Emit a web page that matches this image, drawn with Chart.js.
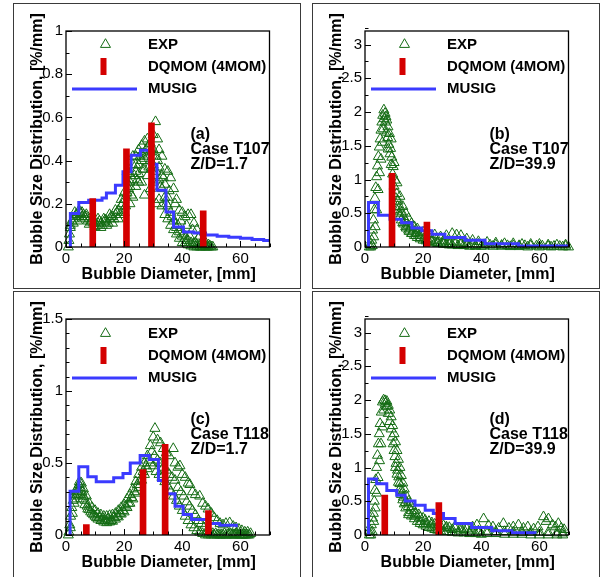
<!DOCTYPE html>
<html><head><meta charset="utf-8">
<script src="https://cdn.jsdelivr.net/npm/chart.js"></script>
<style>
html,body{margin:0;padding:0;background:#fff;width:615px;height:577px;overflow:hidden}
.frame{position:absolute;border:1px solid #3a3a3a;box-sizing:border-box;width:288px}
.frame canvas{position:absolute;left:0;top:0}
</style></head><body>
<div class="frame" style="left:13px;top:3px;height:286px"><canvas id="cA" width="286" height="284"></canvas></div>
<div class="frame" style="left:312px;top:3px;height:286px"><canvas id="cB" width="286" height="284"></canvas></div>
<div class="frame" style="left:13px;top:291px;height:292px"><canvas id="cC" width="286" height="284"></canvas></div>
<div class="frame" style="left:312px;top:291px;height:292px"><canvas id="cD" width="286" height="284"></canvas></div>
<script>
// ---------- tick labels ----------
const xTicks = [0, 20, 40, 60];
const yTicksA = [0, 0.2, 0.4, 0.6, 0.8, 1];
const yTicksB = [0, 0.5, 1, 1.5, 2, 2.5, 3];
const yTicksC = [0, 0.5, 1, 1.5];
const yTicksD = [0, 0.5, 1, 1.5, 2, 2.5, 3];

// ---------- text ----------
const xTitle = 'Bubble Diameter, [mm]';
const yTitle = 'Bubble Size Distribution, [%/mm]';
const seriesNames = ['EXP', 'DQMOM (4MOM)', 'MUSIG'];
const notesA = ['(a)', 'Case T107', 'Z/D=1.7'];
const notesB = ['(b)', 'Case T107', 'Z/D=39.9'];
const notesC = ['(c)', 'Case T118', 'Z/D=1.7'];
const notesD = ['(d)', 'Case T118', 'Z/D=39.9'];

// ---------- panel (a) ----------
const expAx = [0.8,1.0,1.2,1.5,2,3,4,5,6,7,8,9,10,11,12,13,14,15,16,17,18,19,20,21,22,23,24,25,26,27,28,29,30,31,32,33,34,35,36,37,38,39,40,41,42,43,44,45,46,47,48,49,50,
  1.5,3,4.5,5.5,7,9,11,13,15,17,19,20,21,22,23,24,25,26,27,28,29,30,30.8,31.5,32,33,34,35,36,37,38,39,40,41,42,43,44,45,46,47,48,49,50.5,
  2.5,4,6,8,10,12,14,16,18,20,22,23,24,25,26,27,28,29,30,31,32,33,34,35,36,37,38,39,40,41,42,43,44,45,46,47,48,
  2.5,3.5,4.5,5.5,6.5,7.5,8.5,9.5,10.5,11.5,12.5,13.5,14.5,15.5,16.5,17.5,18.5,19.5,20.5,21.5,22.5,23.5,24.5,25.5,26.5,27.5,28.5,29.5,30.5,31.5,32.5,33.5,34.5,35.5,36.5,37.5,38.5,39.5,40.5,41.5,42.5,43.5,44.5,45.5,46.5,47.5,48.5,49.5,
  21,22,23,24,25,26,27,28,29,30,31,32,33,34,35];
const expAy = [0,0.03,0.06,0.09,0.12,0.14,0.15,0.155,0.15,0.14,0.13,0.12,0.115,0.11,0.11,0.115,0.12,0.13,0.14,0.15,0.17,0.19,0.22,0.25,0.28,0.31,0.35,0.38,0.40,0.41,0.42,0.40,0.38,0.35,0.31,0.27,0.23,0.19,0.16,0.12,0.09,0.07,0.05,0.04,0.03,0.02,0.015,0.01,0.01,0.005,0.005,0,0,
  0.1,0.16,0.17,0.16,0.15,0.13,0.13,0.13,0.15,0.17,0.22,0.25,0.3,0.34,0.38,0.42,0.45,0.47,0.49,0.5,0.48,0.52,0.58,0.5,0.45,0.42,0.36,0.35,0.32,0.27,0.22,0.17,0.16,0.14,0.15,0.15,0.11,0.08,0.05,0.03,0.02,0.01,0,
  0.11,0.12,0.13,0.105,0.095,0.09,0.1,0.11,0.13,0.16,0.2,0.23,0.28,0.3,0.3,0.24,0.33,0.27,0.3,0.2,0.22,0.19,0.15,0.13,0.1,0.08,0.06,0.04,0.02,0.02,0.01,0.005,0,0,0,0,0,
  0.13,0.15,0.14,0.14,0.14,0.12,0.115,0.11,0.1,0.12,0.1,0.125,0.11,0.14,0.13,0.16,0.15,0.2,0.19,0.27,0.24,0.33,0.31,0.42,0.36,0.45,0.37,0.44,0.33,0.4,0.28,0.32,0.2,0.26,0.14,0.2,0.1,0.12,0.06,0.1,0.05,0.08,0.02,0.04,0,0.01,0,0.005,
  0.35,0.3,0.42,0.38,0.34,0.43,0.36,0.46,0.44,0.45,0.42,0.37,0.33,0.29,0.23];
const dqAx = [9.2, 20.8, 29.4, 47.2];
const dqAy = [0.224, 0.455, 0.575, 0.168];
const muAx = [1.2,1.5,4.4,7.8,12.4,13.9,17,19.6,22.4,25.6,28.7,31.3,34.4,37,40.4,44,48,52,56,60,64,68,70];
const muAy = [0,0.155,0.206,0.216,0.227,0.25,0.286,0.348,0.425,0.448,0.383,0.263,0.162,0.093,0.07,0.065,0.055,0.05,0.045,0.04,0.035,0.03,0.028];

// ---------- panel (b) ----------
const expBx = [1.5,2.0,2.3,2.6,2.9,3.2,3.4,3.7,4.0,4.3,4.6,4.9,5.2,5.5,5.8,6.1,6.5,6.9,7.2,7.5,7.9,8.4,8.8,9.2,9.7,10.3,10.9,11.4,12.0,12.6,13.2,14.0,14.9,15.7,16.6,17.7,18.9,20.5,22.4,24.5,27,29,31,33,35,37,39,41,43,45,47,49,51,53,55,57,59,61,63,65,67,69,
  2.0,2.5,3.0,3.5,4.0,4.5,5.0,5.5,6.0,6.3,6.6,7.0,7.4,7.8,8.2,8.6,9.0,9.5,10.0,10.6,11.2,11.8,12.5,13.3,14.2,15.2,16.2,17.5,19,21,23,25,27,29,31,33,35,38,41,44,47,50,53,56,60,64,68,70,
  8.0,9.0,10.0,11.0,12,13,14,15,16,17,18,20,22,24,26,28,30,31.5,33,35,37,39,42,45,48,51,54,57,60,63,66,69,
  11,12,13,14,15,16,17,18,19,20,21,22,23,24,25,26,27,28,29,30,32,34,36,38,40];
const expBy = [0,0.05,0.1,0.25,0.4,0.55,0.72,0.88,1.04,1.2,1.34,1.48,1.6,1.73,1.85,1.95,2.03,1.98,1.93,1.88,1.78,1.68,1.46,1.33,1.19,0.99,0.79,0.68,0.59,0.52,0.45,0.38,0.32,0.28,0.25,0.21,0.17,0.14,0.12,0.1,0.09,0.08,0.07,0.06,0.05,0.045,0.04,0.035,0.03,0.03,0.025,0.02,0.02,0.02,0.02,0.015,0.015,0.015,0.01,0.01,0.01,0.01,
  0,0.02,0.15,0.3,0.55,0.85,1.1,1.3,1.55,1.75,1.9,1.85,1.7,1.62,1.52,1.38,1.22,1.08,0.9,0.72,0.6,0.5,0.4,0.34,0.28,0.23,0.2,0.17,0.14,0.11,0.09,0.07,0.06,0.05,0.04,0.035,0.03,0.02,0.015,0.01,0.01,0.005,0.005,0,0,0,0,0,
  1.45,1.6,1.25,0.95,0.75,0.6,0.5,0.42,0.35,0.3,0.27,0.22,0.2,0.18,0.15,0.17,0.2,0.18,0.17,0.12,0.1,0.08,0.07,0.06,0.05,0.05,0.04,0.04,0.04,0.03,0.03,0.03,
  0.55,0.45,0.36,0.3,0.25,0.2,0.17,0.14,0.12,0.1,0.09,0.08,0.07,0.06,0.05,0.05,0.04,0.04,0.03,0.03,0.02,0.02,0.01,0.01,0.01];
const dqBx = [9.3, 21.3];
const dqBy = [1.09, 0.37];
const muBx = [1.1,1.2,4.6,8.6,12.6,16.1,19.5,23,27.5,34.4,41.3,52.8,70];
const muBy = [0,0.66,0.47,0.41,0.36,0.28,0.24,0.19,0.14,0.10,0.05,0.015,0.01];

// ---------- panel (c) ----------
const expCx = [0.8,1.0,1.3,1.6,2.0,2.5,3.0,3.5,4.0,4.5,5.0,5.5,6.0,6.6,7.3,8.0,9.0,10.0,11.0,12.0,13.0,14,15,16,17,18,19,20,21,22,23,24,25,26,27,28,29,30,31,32,33,34,35,36,37,38,39,40,41,42,43,44,45,46,47,48,49,50,51,52,53,54,55,56,57,58,59,60,61,62,63,
  1.5,2.2,3.0,3.8,4.6,5.3,6.0,7.0,8.0,9.0,10,11,12,13,14,15,16,17,18,19,20,21,22,23,24,25,26,27,28,29,30,30.6,31.5,32.5,33.5,34.5,35.5,36.9,37.5,38.5,39.2,40,41,42,42.6,43.5,44.5,46,47,48,48.9,50,51,52,53,54,55,56.3,57.5,58.5,59.5,60.5,61.5,62.5,63.5,
  2.8,3.3,4.2,5.0,5.8,6.5,7.5,8.5,9.5,10.5,11.5,12.5,13.5,14.5,15.5,16.5,17.5,18.5,19.5,20.5,21.5,22.5,23.5,24.5,25.5,26.5,27.5,28.5,29.5,30.5,31.5,32.5,33.5,34.5,35.5,36.5,37.5,38.5,39.5,40.5,41.5,42.5,43.5,44.5,45.5,46.5,47.5,48.5,49.5,50.5,51.5,52.5,53.5,54.5,55.5,56.5,57.5,58.5,59.5,60.5,61.5,62.5];
const expCy = [0,0.02,0.07,0.13,0.19,0.24,0.28,0.31,0.33,0.35,0.33,0.3,0.27,0.24,0.2,0.175,0.15,0.13,0.11,0.1,0.09,0.085,0.09,0.095,0.11,0.125,0.145,0.16,0.19,0.22,0.25,0.29,0.33,0.38,0.42,0.46,0.5,0.48,0.44,0.42,0.4,0.37,0.34,0.3,0.27,0.24,0.2,0.17,0.13,0.1,0.07,0.05,0.03,0.02,0.01,0,0,0,0,0,0,0,0,0,0,0,0,0,0,0,0,
  0.05,0.15,0.25,0.3,0.37,0.36,0.32,0.27,0.22,0.19,0.17,0.15,0.14,0.13,0.13,0.135,0.14,0.15,0.17,0.19,0.21,0.25,0.28,0.32,0.37,0.42,0.47,0.5,0.55,0.62,0.68,0.74,0.66,0.64,0.6,0.57,0.55,0.6,0.5,0.47,0.48,0.42,0.4,0.36,0.35,0.3,0.28,0.27,0.22,0.2,0.18,0.15,0.12,0.1,0.08,0.07,0.08,0.085,0.06,0.05,0.04,0.03,0.02,0.02,0.01,
  0.22,0.27,0.29,0.28,0.25,0.21,0.18,0.16,0.14,0.12,0.12,0.11,0.1,0.11,0.1,0.12,0.13,0.15,0.17,0.2,0.22,0.26,0.3,0.35,0.38,0.44,0.48,0.52,0.58,0.55,0.52,0.5,0.47,0.45,0.42,0.4,0.38,0.33,0.3,0.27,0.23,0.2,0.17,0.14,0.1,0.08,0.05,0.03,0.02,0.01,0.01,0,0,0.01,0,0.01,0,0.01,0,0,0,0];
const dqCx = [7.0, 26.5, 34.1, 49.0];
const dqCy = [0.073, 0.455, 0.63, 0.17];
const muCx = [1.3,1.4,4.4,7.5,10.4,16.4,19.6,22.1,25.5,28.6,31.8,34.7,37.5,40.3,43.2,48.9,52.9,58.6];
const muCy = [0,0.304,0.474,0.404,0.37,0.397,0.427,0.50,0.552,0.524,0.378,0.286,0.2,0.142,0.108,0.08,0.068,0.054];

// ---------- panel (d) ----------
const expDx = [1.5,1.7,2.2,2.6,2.9,3.2,3.4,3.7,4.0,4.3,4.6,4.9,5.2,5.6,6.0,6.4,6.9,7.4,8.0,8.5,9.0,9.4,9.7,10.0,10.3,10.7,11.2,11.6,12.0,12.6,13.2,14.0,14.9,16,17.2,19,20.7,23,25.2,28,31,34,36.7,39,42,45,48,51,54,57,60,63,66,68,
  2.0,2.5,3.0,3.5,4.0,4.5,5.0,5.5,6.0,6.5,7.0,7.5,8.0,8.5,9.0,9.5,10.0,10.5,11.0,11.5,12.0,12.5,13.0,13.5,14.2,15.0,16.0,17.0,18.5,20,22,24,26,28,30,33,36,39,42,45,48,51,54,57,60,63,66,68,
  15,17,19,21,23,25,27,29,31,33,35,37,38.5,40.8,42.5,44,46,47.6,49.5,51,52.8,54.5,56,58,59.5,61.4,62.3,63.1,64.5,65.5,66.5,67.5,68.5,
  10.5,11,11.5,12,12.5,13,13.5,14,15,16,17,18,19,20,21,22,23,24,25,26,27,28,30,32,34,36,38,40];
const expDy = [0,0.07,0.15,0.25,0.32,0.5,0.66,0.82,1.0,1.18,1.35,1.5,1.65,1.82,1.97,2.0,1.99,1.9,1.8,1.68,1.57,1.45,1.35,1.25,1.16,1.06,0.96,0.86,0.76,0.66,0.56,0.48,0.42,0.36,0.32,0.26,0.22,0.18,0.145,0.12,0.096,0.08,0.07,0.06,0.055,0.05,0.05,0.045,0.04,0.04,0.04,0.035,0.03,0.03,
  0,0.05,0.2,0.4,0.62,0.85,1.1,1.35,1.6,1.85,1.95,1.98,1.92,1.85,1.75,1.62,1.5,1.38,1.25,1.12,1.0,0.88,0.77,0.68,0.58,0.5,0.42,0.36,0.3,0.25,0.2,0.16,0.13,0.1,0.08,0.06,0.04,0.03,0.02,0.02,0.01,0.01,0.01,0,0,0,0,0,
  0.3,0.28,0.2,0.17,0.15,0.12,0.14,0.11,0.13,0.1,0.09,0.12,0.15,0.24,0.14,0.12,0.1,0.17,0.1,0.12,0.15,0.1,0.12,0.09,0.12,0.27,0.2,0.24,0.15,0.12,0.17,0.1,0.08,
  1.0,0.9,0.78,0.68,0.6,0.52,0.46,0.4,0.33,0.28,0.24,0.2,0.17,0.15,0.13,0.11,0.1,0.08,0.07,0.06,0.05,0.05,0.04,0.03,0.03,0.02,0.02,0.01];
const dqDx = [6.8, 25.4];
const dqDy = [0.59, 0.48];
const muDx = [1.1,1.2,4.0,7.5,10.9,13.8,17.2,20.7,23.5,27,31,36.7,43.6,50.5,58.5];
const muDy = [0,0.83,0.76,0.66,0.59,0.505,0.44,0.366,0.318,0.244,0.17,0.11,0.062,0.032,0.02];

// ---------- styling ----------
const GREEN = '#146c14';
const RED = '#d40000';
const BLUE = '#3b3bff';
const FONT = '"Liberation Sans", Arial, sans-serif';

function zip(xs, ys) { return xs.map((x, i) => ({ x: x, y: ys[i] })); }

const deco = {
  id: 'deco',
  afterDraw(chart, args, o) {
    const { ctx, chartArea: a, scales } = chart;
    const x = scales.x, y = scales.y;
    ctx.save();
    ctx.strokeStyle = '#000';
    ctx.lineWidth = 1;
    ctx.beginPath();
    for (let v = 0; v <= 70 + 1e-9; v += 5) {
      const px = Math.round(x.getPixelForValue(v)) + 0.5;
      const len = xTicks.includes(v) ? 6 : 3.5;
      ctx.moveTo(px, a.bottom); ctx.lineTo(px, a.bottom - len);
    }
    const n = Math.round(o.ymax / o.yMinor);
    for (let i = 0; i <= n; i++) {
      const v = +(i * o.yMinor).toFixed(4);
      const py = Math.round(y.getPixelForValue(v)) + 0.5;
      const len = o.yTicks.some(t => Math.abs(t - v) < 1e-6) ? 6 : 3.5;
      ctx.moveTo(a.left, py); ctx.lineTo(a.left + len, py);
    }
    ctx.stroke();
    ctx.lineWidth = 1.3;
    ctx.strokeRect(a.left, a.top, a.right - a.left, a.bottom - a.top);

    // axis titles
    ctx.fillStyle = '#000';
    ctx.font = 'bold 16px ' + FONT;
    ctx.textAlign = 'center';
    ctx.textBaseline = 'alphabetic';
    ctx.fillText(xTitle, (a.left + a.right) / 2 + 1, a.bottom + 31.5);
    ctx.save();
    ctx.translate(a.left - 24.5, (a.top + a.bottom) / 2);
    ctx.rotate(-Math.PI / 2);
    ctx.fillText(yTitle, 0, 0);
    ctx.restore();

    // legend
    const lx = a.left, ly = a.top + o.legTop;
    ctx.strokeStyle = GREEN; ctx.lineWidth = 1;
    const tr = 5.8, tx = lx + 39.5, ty = ly;
    ctx.beginPath();
    ctx.moveTo(tx, ty - tr);
    ctx.lineTo(tx + tr * Math.sin(2 * Math.PI / 3), ty - tr * Math.cos(2 * Math.PI / 3));
    ctx.lineTo(tx + tr * Math.sin(4 * Math.PI / 3), ty - tr * Math.cos(4 * Math.PI / 3));
    ctx.closePath(); ctx.stroke();
    ctx.fillStyle = RED;
    ctx.fillRect(lx + 34.5, ly + 22 - 8.5, 6, 17);
    ctx.strokeStyle = BLUE; ctx.lineWidth = 3;
    ctx.beginPath(); ctx.moveTo(lx + 6, ly + 44.5); ctx.lineTo(lx + 71, ly + 44.5); ctx.stroke();
    ctx.fillStyle = '#000';
    ctx.font = 'bold 15px ' + FONT;
    ctx.textBaseline = 'middle';
    ctx.textAlign = 'left';
    seriesNames.forEach((t, i) => ctx.fillText(t, lx + 82, ly + i * 22.3));

    ctx.font = 'bold 16px ' + FONT;
    o.notes.forEach((t, i) => ctx.fillText(t, a.left + 124.5, a.top + o.noteTop + i * 15));
    ctx.restore();
  }
};

function makeChart(id, p) {
  new Chart(document.getElementById(id), {
    type: 'scatter',
    data: {
      datasets: [
        { type: 'bar', label: seriesNames[1], data: zip(p.dqX, p.dqY), backgroundColor: RED, barThickness: 6, order: 0 },
        { type: 'line', label: seriesNames[2], data: zip(p.muX, p.muY), stepped: true, borderColor: BLUE, borderWidth: 3, pointRadius: 0, fill: false, order: 1 },
        { type: 'scatter', label: seriesNames[0], data: zip(p.expX, p.expY), pointStyle: 'triangle', pointRadius: 5.8, borderColor: GREEN, backgroundColor: 'rgba(0,0,0,0)', borderWidth: 1, clip: false, order: 2 }
      ]
    },
    options: {
      responsive: false,
      animation: false,
      devicePixelRatio: 1,
      layout: { padding: { left: 0, top: 27, right: 30.5, bottom: 0 } },
      plugins: { legend: { display: false }, tooltip: { enabled: false }, deco: p },
      scales: {
        x: {
          type: 'linear', min: 0, max: 70, offset: false,
          grid: { display: false, drawTicks: false }, border: { display: false },
          afterBuildTicks: s => { s.ticks = xTicks.map(v => ({ value: v })); },
          afterFit: s => { s.height = 41; },
          ticks: { color: '#000', font: { family: FONT, size: 15 }, padding: 3, maxRotation: 0, autoSkip: false, callback: v => String(v) },
          title: { display: false }
        },
        y: {
          type: 'linear', min: 0, max: p.ymax,
          grid: { display: false, drawTicks: false }, border: { display: false },
          afterBuildTicks: s => { s.ticks = p.yTicks.map(v => ({ value: v })); },
          afterFit: s => { s.width = 52; },
          ticks: { color: '#000', font: { family: FONT, size: 15 }, padding: 3, autoSkip: false, callback: v => String(v) },
          title: { display: false }
        }
      }
    },
    plugins: [deco]
  });
}

makeChart('cA', { expX: expAx, expY: expAy, dqX: dqAx, dqY: dqAy, muX: muAx, muY: muAy, ymax: 1, yTicks: yTicksA, yMinor: 0.1, notes: notesA, legTop: 13.5, noteTop: 104 });
makeChart('cB', { expX: expBx, expY: expBy, dqX: dqBx, dqY: dqBy, muX: muBx, muY: muBy, ymax: 3.2, yTicks: yTicksB, yMinor: 0.25, notes: notesB, legTop: 13.5, noteTop: 104 });
makeChart('cC', { expX: expCx, expY: expCy, dqX: dqCx, dqY: dqCy, muX: muCx, muY: muCy, ymax: 1.5, yTicks: yTicksC, yMinor: 0.1, notes: notesC, legTop: 14.5, noteTop: 101 });
makeChart('cD', { expX: expDx, expY: expDy, dqX: dqDx, dqY: dqDy, muX: muDx, muY: muDy, ymax: 3.2, yTicks: yTicksD, yMinor: 0.25, notes: notesD, legTop: 14.5, noteTop: 101 });
</script>
</body></html>
